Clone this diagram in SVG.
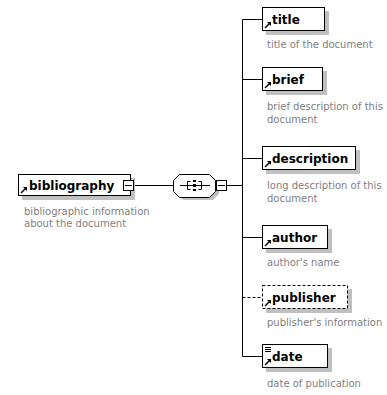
<svg xmlns="http://www.w3.org/2000/svg" width="387" height="395" viewBox="0 0 387 395">
<defs>
<style>
.box{fill:#fff;stroke:#000;stroke-width:1}
.dbox{fill:#fff;stroke:#000;stroke-width:1;stroke-dasharray:3,2}
.sh{fill:#c0c0c0}
.name{font-family:Tahoma,"DejaVu Sans","Liberation Sans",sans-serif;font-weight:bold;font-size:12px;fill:#000}
.doc{font-family:Tahoma,"DejaVu Sans","Liberation Sans",sans-serif;font-size:10px;fill:#808080}
.ln{stroke:#000;stroke-width:1;fill:none}
.dln{stroke:#000;stroke-width:1;fill:none;stroke-dasharray:3,2}
</style>
<g id="refarrow">
<path d="M0,0 L5,-5" stroke="#000" stroke-width="1.5"/>
<path d="M2,-6 L6,-6 L6,-2 Z" fill="#000"/>
</g>
</defs>
<g id="connectors">
<line class="ln" x1="134" y1="185.5" x2="173" y2="185.5"/>
<line class="ln" x1="227" y1="185.5" x2="242.5" y2="185.5"/>
<line class="ln" x1="242.5" y1="19.5" x2="242.5" y2="356.5"/>
<line class="ln" x1="242.5" y1="19.5" x2="262" y2="19.5"/>
<line class="ln" x1="242.5" y1="79.5" x2="262" y2="79.5"/>
<line class="ln" x1="242.5" y1="158.5" x2="262" y2="158.5"/>
<line class="ln" x1="242.5" y1="237.5" x2="262" y2="237.5"/>
<line class="dln" x1="242.5" y1="297.5" x2="262" y2="297.5"/>
<line class="ln" x1="242.5" y1="356.5" x2="262" y2="356.5"/>
</g>
<g id="bibliography">
<rect class="sh" x="22" y="178" width="113" height="22"/>
<rect class="box" x="18.5" y="174.5" width="112" height="21"/>
<use href="#refarrow" x="21" y="193"/>
<text class="name" x="29" y="190">bibliography</text>
<rect class="box" x="123.5" y="180.5" width="10" height="10"/>
<line class="ln" x1="125" y1="185.5" x2="132" y2="185.5"/>
<text class="doc" x="24" y="215">bibliographic information</text>
<text class="doc" x="24" y="227">about the document</text>
</g>
<g id="sequence">
<path class="sh" d="M183,177 L213,177 L219,183 L219,194 L213,200 L183,200 L177,194 L177,183 Z"/>
<path class="box" d="M179.5,174.5 L209.5,174.5 L215.5,180.5 L215.5,191.5 L209.5,197.5 L179.5,197.5 L173.5,191.5 L173.5,180.5 Z"/>
<line class="ln" x1="180" y1="185.5" x2="210" y2="185.5"/>
<path class="ln" d="M190.5,181.5 L187.5,181.5 L187.5,189.5 L190.5,189.5 M198.5,181.5 L201.5,181.5 L201.5,189.5 L198.5,189.5"/>
<rect x="193" y="180" width="3" height="2" fill="#000"/>
<rect x="193" y="184" width="3" height="3" fill="#000"/>
<rect x="193" y="189" width="3" height="2" fill="#000"/>
<rect class="box" x="216.5" y="180.5" width="10" height="10"/>
<line class="ln" x1="218" y1="185.5" x2="225" y2="185.5"/>
</g>
<g id="title">
<rect class="sh" x="266" y="11" width="63" height="24"/>
<rect class="box" x="262.5" y="7.5" width="62" height="23"/>
<use href="#refarrow" x="265" y="28"/>
<text class="name" x="272" y="24">title</text>
<text class="doc" x="267" y="48">title of the document</text>
</g>
<g id="brief">
<rect class="sh" x="266" y="71" width="61" height="24"/>
<rect class="box" x="262.5" y="67.5" width="60" height="23"/>
<use href="#refarrow" x="265" y="88"/>
<text class="name" x="272" y="84">brief</text>
<text class="doc" x="267" y="110">brief description of this</text>
<text class="doc" x="267" y="123">document</text>
</g>
<g id="description">
<rect class="sh" x="266" y="150" width="94" height="24"/>
<rect class="box" x="262.5" y="146.5" width="93" height="23"/>
<use href="#refarrow" x="265" y="167"/>
<text class="name" x="272" y="163">description</text>
<text class="doc" x="267" y="189">long description of this</text>
<text class="doc" x="267" y="202">document</text>
</g>
<g id="author">
<rect class="sh" x="266" y="229" width="66" height="24"/>
<rect class="box" x="262.5" y="225.5" width="65" height="23"/>
<use href="#refarrow" x="265" y="246"/>
<text class="name" x="272" y="242">author</text>
<text class="doc" x="267" y="266">author's name</text>
</g>
<g id="publisher">
<rect class="sh" x="266" y="289" width="86" height="24"/>
<rect class="dbox" x="262.5" y="285.5" width="85" height="23"/>
<use href="#refarrow" x="265" y="306"/>
<text class="name" x="272" y="302">publisher</text>
<text class="doc" x="267" y="326">publisher's information</text>
</g>
<g id="date">
<rect class="sh" x="266" y="348" width="66" height="24"/>
<rect class="box" x="262.5" y="344.5" width="65" height="23"/>
<path class="ln" d="M265,347.5 H271 M265,349.5 H271 M265,351.5 H271"/>
<use href="#refarrow" x="265" y="365"/>
<text class="name" x="272" y="361">date</text>
<text class="doc" x="267" y="387">date of publication</text>
</g>
</svg>
